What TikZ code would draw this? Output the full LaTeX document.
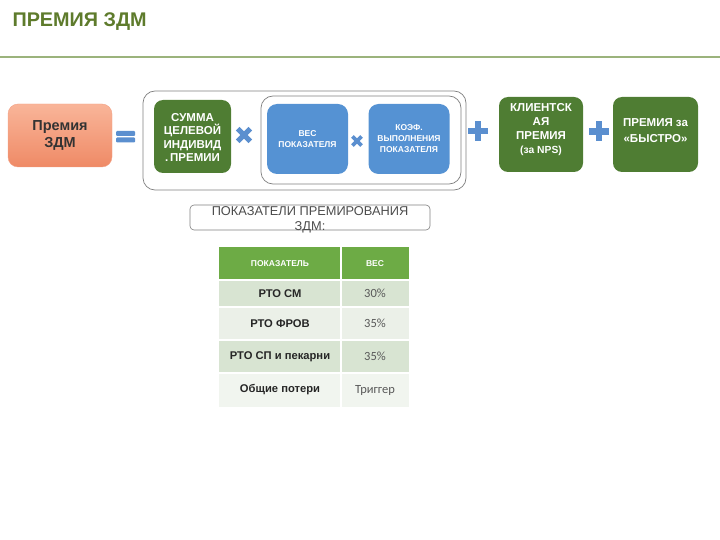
\documentclass[tikz,border=0pt]{standalone}
\usepackage{fontspec}
\setmainfont{Liberation Sans}
\newfontfamily\numfont{Carlito}
\usetikzlibrary{positioning}

\definecolor{titlegreen}{HTML}{5E7B2C}
\definecolor{rulegreen}{HTML}{9BB37C}
\definecolor{boxgreen}{HTML}{4F7D33}
\definecolor{boxblue}{HTML}{5592D3}
\definecolor{opblue}{HTML}{5B8FCF}
\definecolor{salmontop}{HTML}{F9B599}
\definecolor{salmonbot}{HTML}{EF8A66}
\definecolor{headgreen}{HTML}{6DAB45}
\definecolor{rowdark}{HTML}{D8E4D2}
\definecolor{rowlight}{HTML}{EBF0E8}
\definecolor{frame}{HTML}{7F7F7F}

\begin{document}
\begin{tikzpicture}[x=1pt, y=-1pt,
    greenbox/.style = {fill=boxgreen, rounded corners=9pt, inner sep=1pt},
    boxtext/.style = {text=white, font=\fontsize{11.5}{15}\selectfont\bfseries,
      align=center, inner sep=0pt},
    bluebox/.style = {fill=boxblue, rounded corners=10pt, text=white,
      font=\fontsize{8.5}{11}\selectfont\bfseries, align=center, inner sep=1pt,
      minimum width=81pt, minimum height=70pt},
    groupbox/.style = {draw=frame, line width=0.7pt, rounded corners=12pt},
    opsign/.style = {fill=opblue},
    headcell/.style = {text=white, font=\fontsize{8.5}{10}\selectfont\bfseries},
    bodycell/.style = {text=black!85, font=\fontsize{11.2}{13}\selectfont\bfseries},
    valcell/.style = {text=black!65, font=\fontsize{12.5}{14}\selectfont\numfont}]

  \useasboundingbox (0,0) rectangle (720,540);

  % title and rule
  \node[anchor=west, text=titlegreen, font=\fontsize{19.8}{22}\selectfont\bfseries]
    (title) at (9,22) {ПРЕМИЯ ЗДМ};
  \draw[rulegreen, line width=2pt] (0,57) -- (720,57);

  % formula
  \node[groupbox, minimum width=323pt, minimum height=99pt] (outer) at (304.5,140.5) {};
  \node[groupbox, minimum width=200pt, minimum height=88pt] (inner) at (361,140) {};

  \node[top color=salmontop, bottom color=salmonbot, draw=salmonbot!80,
    rounded corners=10pt, minimum width=104pt, minimum height=63pt,
    align=center, text=black!80, font=\fontsize{14.5}{17}\selectfont\bfseries]
    (zdm) at (60,135.5) {Премия\\ЗДМ};

  \node[greenbox, minimum width=77pt, minimum height=73pt] (sum) at (192.5,136.5) {};
  \node[boxtext, font=\fontsize{11.5}{13.5}\selectfont\bfseries]
    (sumtext) at ([yshift=-1pt]sum.center) {СУММА\\ЦЕЛЕВОЙ\\ИНДИВИД\\.\,ПРЕМИИ};
  \node[bluebox] (weight) at (307.5,139) {ВЕС\\ПОКАЗАТЕЛЯ};
  \node[bluebox] (coef) at (409,139) {КОЭФ.\\ВЫПОЛНЕНИЯ\\ПОКАЗАТЕЛЯ};
  \node[greenbox, minimum width=84pt, minimum height=75pt] (client) at (541,134.5) {};
  \node[boxtext, font=\fontsize{11.5}{14}\selectfont\bfseries]
    (clienttext) at ([yshift=5pt]client.center)
    {КЛИЕНТСК\\АЯ\\ПРЕМИЯ\\{\fontsize{10.3}{14}\selectfont(за NPS)}};
  \node[greenbox, minimum width=85pt, minimum height=75pt] (fast) at (655.5,134.5) {};
  \node[boxtext, font=\fontsize{11.5}{16}\selectfont\bfseries]
    (fasttext) at ([yshift=4pt]fast.center) {ПРЕМИЯ за\\«БЫСТРО»};

  % operators
  \fill[opsign, rounded corners=1pt] (116,131) rectangle (135,136);
  \fill[opsign, rounded corners=1pt] (116,137.5) rectangle (135,142.5);
  \begin{scope}[shift={(244,135)}, rotate=45]
    \fill[opsign] (-9,-2.6) rectangle (9,2.6);
    \fill[opsign] (-2.6,-9) rectangle (2.6,9);
  \end{scope}
  \begin{scope}[shift={(357,141)}, rotate=45]
    \fill[opsign] (-6.5,-1.8) rectangle (6.5,1.8);
    \fill[opsign] (-1.8,-6.5) rectangle (1.8,6.5);
  \end{scope}
  \foreach \cx/\cy in {478/131, 599/131.5} {
    \fill[opsign] (\cx-10,\cy-3.2) rectangle (\cx+10,\cy+3.2);
    \fill[opsign] (\cx-3.2,\cy-10) rectangle (\cx+3.2,\cy+10);
  }

  % table caption
  \draw[frame, line width=0.6pt, rounded corners=4pt] (190,205) rectangle (430,230);
  \node[text=black!70, font=\fontsize{12.8}{14.5}\selectfont, align=center]
    (caption) at (310,220) {ПОКАЗАТЕЛИ ПРЕМИРОВАНИЯ\\ЗДМ:};

  % table
  \def\xL{219}
  \def\xM{341}
  \def\xR{409}
  \fill[headgreen] (\xL,247) rectangle (\xR,280);
  \fill[rowdark]   (\xL,280) rectangle (\xR,307);
  \fill[rowlight]  (\xL,307) rectangle (\xR,340);
  \fill[rowdark]   (\xL,340) rectangle (\xR,373);
  \fill[rowlight!70!white] (\xL,373) rectangle (\xR,407);
  \draw[white, line width=1.2pt] (\xM,247) -- (\xM,407);
  \foreach \yy in {280,307,340,373}
    \draw[white, line width=1.2pt] (\xL,\yy) -- (\xR,\yy);

  \node[headcell] (h1) at (280,264) {ПОКАЗАТЕЛЬ};
  \node[headcell] (h2) at (375,264) {ВЕС};
  \foreach \name/\label/\val/\yc in {r1/РТО СМ/30\%/293.5, r2/РТО ФРОВ/35\%/323.5,
      r3/РТО СП и пекарни/35\%/356.5, r4/Общие потери/Триггер/390} {
    \node[bodycell] (\name a) at (280,\yc) {\label};
    \node[valcell] (\name b) at (375,\yc) {\val};
  }
\end{tikzpicture}
\end{document}
